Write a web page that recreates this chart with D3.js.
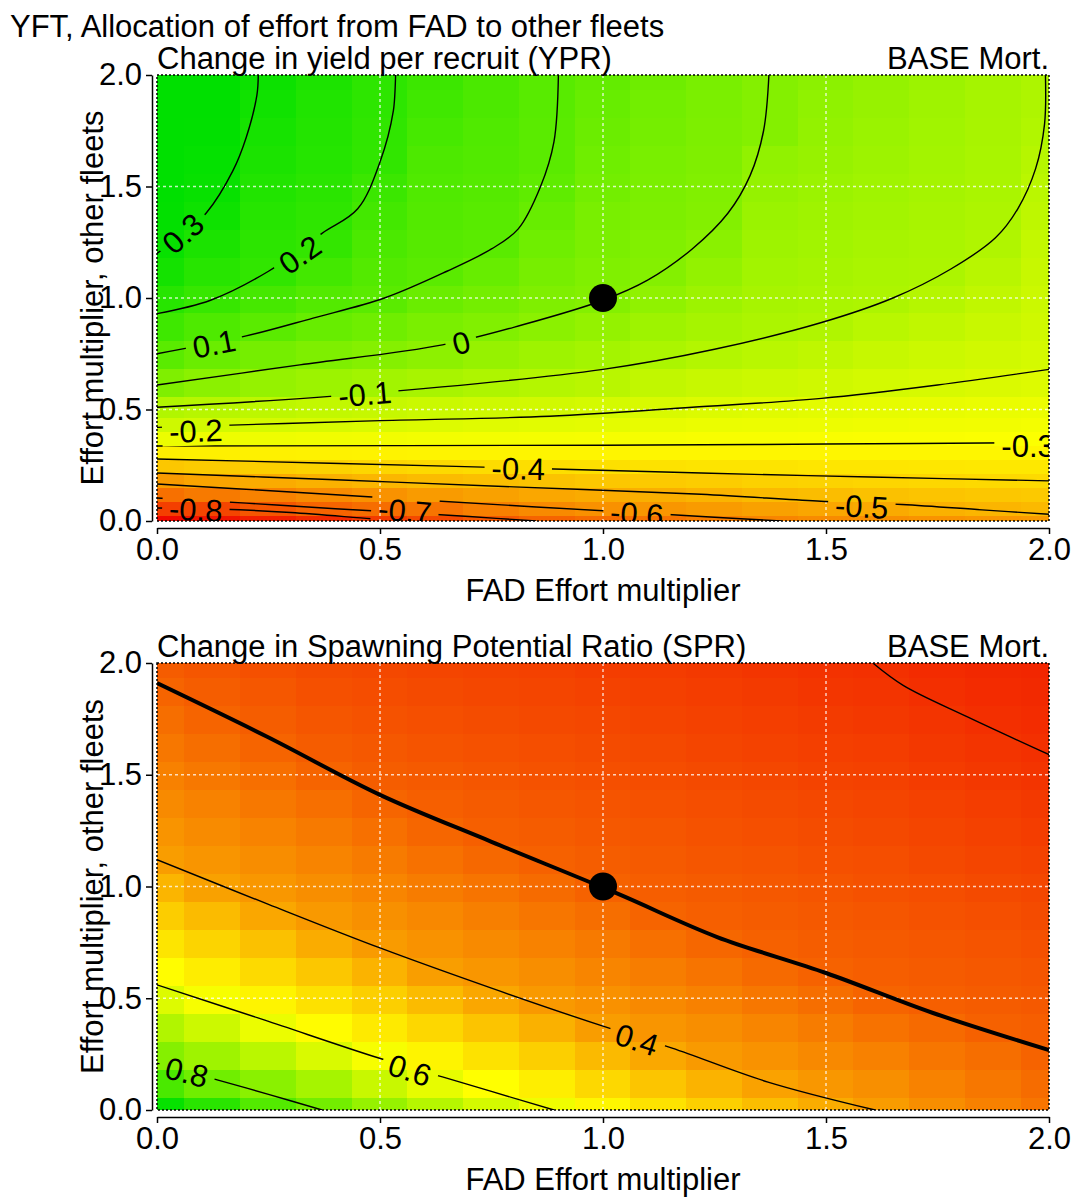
<!DOCTYPE html>
<html>
<head>
<meta charset="utf-8">
<script src="https://cdn.jsdelivr.net/npm/d3@7"></script>
<style>
  body { margin: 0; background: #fff; }
  text { font-family: "Liberation Sans", Arial, Helvetica, sans-serif; fill: #000; }
</style>
</head>
<body>
<svg width="1075" height="1200"></svg>
<script>

// ---- data ----

var ticks = [0, 0.5, 1, 1.5, 2];
var gridX = [0, 0.125, 0.25, 0.375, 0.5, 0.625, 0.75, 0.875, 1, 1.125, 1.25, 1.375, 1.5, 1.625, 1.75, 1.875, 2];

// YPR change: one row per value of yprGridY, values along gridX
var yprGridY = [0, 0.0625, 0.125, 0.1875, 0.25, 0.3125, 0.375, 0.4375, 0.5, 0.625, 0.75, 0.875, 1, 1.125, 1.25, 1.375, 1.5, 1.625, 1.75, 1.875, 2];
var yprRows = [
  [-0.93, -0.90, -0.87, -0.84, -0.80, -0.765, -0.725, -0.695, -0.675, -0.655, -0.63, -0.61, -0.595, -0.585, -0.575, -0.565, -0.555],
  [-0.79, -0.775, -0.73, -0.695, -0.673, -0.654, -0.623, -0.597, -0.581, -0.568, -0.556, -0.539, -0.527, -0.516, -0.50, -0.489, -0.478],
  [-0.665, -0.64, -0.618, -0.595, -0.579, -0.555, -0.539, -0.525, -0.513, -0.503, -0.492, -0.477, -0.467, -0.459, -0.451, -0.444, -0.437],
  [-0.556, -0.532, -0.514, -0.498, -0.485, -0.474, -0.463, -0.453, -0.444, -0.435, -0.427, -0.418, -0.411, -0.407, -0.402, -0.398, -0.395],
  [-0.444, -0.433, -0.423, -0.414, -0.404, -0.397, -0.39, -0.384, -0.379, -0.375, -0.37, -0.368, -0.363, -0.363, -0.361, -0.359, -0.359],
  [-0.34, -0.338, -0.335, -0.333, -0.331, -0.328, -0.327, -0.326, -0.325, -0.324, -0.324, -0.323, -0.323, -0.323, -0.322, -0.322, -0.322],
  [-0.254, -0.258, -0.262, -0.266, -0.268, -0.27, -0.273, -0.275, -0.277, -0.279, -0.282, -0.284, -0.285, -0.287, -0.288, -0.29, -0.292],
  [-0.181, -0.19, -0.198, -0.205, -0.211, -0.218, -0.225, -0.23, -0.235, -0.243, -0.251, -0.255, -0.257, -0.262, -0.266, -0.269, -0.273],
  [-0.111, -0.126, -0.14, -0.151, -0.161, -0.172, -0.181, -0.189, -0.195, -0.206, -0.216, -0.224, -0.231, -0.238, -0.245, -0.25, -0.255],
  [0.011, -0.018, -0.042, -0.059, -0.074, -0.089, -0.103, -0.117, -0.129, -0.149, -0.163, -0.174, -0.183, -0.193, -0.2, -0.209, -0.217],
  [0.1, 0.063, 0.035, 0.014, -0.004, -0.023, -0.045, -0.065, -0.078, -0.096, -0.114, -0.131, -0.145, -0.162, -0.174, -0.185, -0.195],
  [0.169, 0.13, 0.1, 0.07, 0.049, 0.024, 0.006, -0.019, -0.039, -0.064, -0.084, -0.097, -0.108, -0.131, -0.147, -0.166, -0.184],
  [0.226, 0.186, 0.151, 0.119, 0.1, 0.062, 0.038, 0.012, 0.0, -0.031, -0.061, -0.086, -0.093, -0.1, -0.121, -0.146, -0.174],
  [0.272, 0.224, 0.202, 0.158, 0.119, 0.1, 0.069, 0.031, 0.01, 0.0, -0.038, -0.075, -0.084, -0.094, -0.099, -0.127, -0.164],
  [0.302, 0.255, 0.214, 0.197, 0.138, 0.111, 0.1, 0.05, 0.02, 0.006, -0.015, -0.065, -0.075, -0.085, -0.093, -0.108, -0.153],
  [0.315, 0.286, 0.227, 0.208, 0.158, 0.118, 0.107, 0.07, 0.027, 0.015, 0.002, -0.054, -0.066, -0.077, -0.088, -0.1, -0.142],
  [0.323, 0.303, 0.24, 0.218, 0.177, 0.126, 0.113, 0.089, 0.04, 0.02, 0.006, -0.043, -0.057, -0.07, -0.082, -0.094, -0.132],
  [0.33, 0.31, 0.254, 0.229, 0.2, 0.134, 0.12, 0.1, 0.049, 0.026, 0.012, -0.032, -0.048, -0.062, -0.077, -0.092, -0.122],
  [0.34, 0.318, 0.267, 0.235, 0.203, 0.15, 0.126, 0.1, 0.06, 0.035, 0.017, 0.0, -0.038, -0.055, -0.071, -0.088, -0.11],
  [0.355, 0.325, 0.28, 0.243, 0.21, 0.165, 0.135, 0.105, 0.07, 0.043, 0.022, 0.0, -0.03, -0.048, -0.066, -0.085, -0.104],
  [0.37, 0.33, 0.292, 0.251, 0.21, 0.174, 0.141, 0.107, 0.079, 0.052, 0.026, -0.001, -0.021, -0.04, -0.06, -0.08, -0.1]
];

// SPR: one column per value of gridX, values along sprGridY (bottom to top)
var sprGridY = [0, 0.125, 0.25, 0.375, 0.5, 0.625, 0.75, 0.875, 1, 1.125, 1.25, 1.375, 1.5, 1.625, 1.75, 1.875, 2];
var sprCols = [
  [0.97, 0.864, 0.772, 0.703, 0.633, 0.577, 0.532, 0.488, 0.443, 0.399, 0.382, 0.365, 0.347, 0.33, 0.312, 0.295, 0.28],
  [0.915, 0.804, 0.731, 0.66, 0.593, 0.546, 0.5, 0.454, 0.407, 0.385, 0.367, 0.349, 0.331, 0.313, 0.295, 0.281, 0.268],
  [0.85, 0.764, 0.688, 0.612, 0.56, 0.512, 0.465, 0.417, 0.388, 0.37, 0.351, 0.332, 0.314, 0.295, 0.281, 0.27, 0.258],
  [0.8, 0.719, 0.639, 0.575, 0.525, 0.476, 0.427, 0.392, 0.372, 0.353, 0.334, 0.315, 0.295, 0.28, 0.269, 0.258, 0.248],
  [0.745, 0.666, 0.592, 0.541, 0.491, 0.44, 0.396, 0.376, 0.356, 0.336, 0.316, 0.296, 0.282, 0.272, 0.262, 0.252, 0.242],
  [0.695, 0.618, 0.56, 0.507, 0.455, 0.402, 0.38, 0.36, 0.339, 0.319, 0.298, 0.285, 0.275, 0.265, 0.255, 0.246, 0.237],
  [0.648, 0.58, 0.526, 0.472, 0.417, 0.386, 0.365, 0.344, 0.323, 0.302, 0.286, 0.277, 0.268, 0.259, 0.25, 0.241, 0.233],
  [0.603, 0.548, 0.492, 0.436, 0.392, 0.371, 0.35, 0.328, 0.307, 0.288, 0.279, 0.271, 0.262, 0.254, 0.245, 0.237, 0.229],
  [0.564, 0.509, 0.453, 0.399, 0.377, 0.355, 0.334, 0.312, 0.29, 0.281, 0.273, 0.265, 0.256, 0.248, 0.24, 0.231, 0.223],
  [0.526, 0.473, 0.419, 0.385, 0.363, 0.34, 0.317, 0.295, 0.284, 0.276, 0.268, 0.26, 0.252, 0.244, 0.236, 0.228, 0.22],
  [0.491, 0.439, 0.394, 0.371, 0.347, 0.324, 0.3, 0.285, 0.277, 0.269, 0.261, 0.254, 0.246, 0.238, 0.23, 0.222, 0.215],
  [0.458, 0.408, 0.379, 0.355, 0.33, 0.306, 0.288, 0.28, 0.272, 0.264, 0.256, 0.248, 0.24, 0.232, 0.224, 0.216, 0.208],
  [0.427, 0.389, 0.363, 0.338, 0.312, 0.29, 0.282, 0.274, 0.266, 0.258, 0.25, 0.242, 0.234, 0.226, 0.218, 0.21, 0.203],
  [0.398, 0.374, 0.348, 0.321, 0.295, 0.284, 0.276, 0.268, 0.26, 0.253, 0.245, 0.237, 0.229, 0.222, 0.214, 0.206, 0.198],
  [0.372, 0.35, 0.328, 0.305, 0.286, 0.278, 0.27, 0.262, 0.253, 0.245, 0.237, 0.229, 0.221, 0.213, 0.205, 0.197, 0.19],
  [0.347, 0.33, 0.312, 0.289, 0.28, 0.272, 0.264, 0.255, 0.247, 0.238, 0.23, 0.222, 0.214, 0.205, 0.197, 0.19, 0.183],
  [0.325, 0.309, 0.292, 0.283, 0.274, 0.266, 0.257, 0.249, 0.24, 0.232, 0.223, 0.215, 0.206, 0.198, 0.192, 0.186, 0.18]
];

// contour lines, [FAD multiplier, other fleets multiplier]
var ypr_p03 = [[0, 1.2], [0.06, 1.29], [0.11, 1.38], [0.17, 1.57], [0.2, 1.72], [0.224, 1.91], [0.227, 2]];
var ypr_p02 = [[0, 0.93], [0.12, 0.99], [0.25, 1.12], [0.37, 1.29], [0.45, 1.4], [0.5, 1.61], [0.53, 1.84], [0.535, 2]];
var ypr_p01 = [[0, 0.75], [0.2, 0.83], [0.35, 0.91], [0.51, 1.0], [0.65, 1.12], [0.75, 1.22], [0.81, 1.31], [0.86, 1.5], [0.89, 1.7], [0.9, 2]];
var ypr_0 = [[0, 0.61], [0.32, 0.7], [0.64, 0.79], [0.82, 0.88], [1, 0.99], [1.1, 1.08], [1.2, 1.22], [1.28, 1.38], [1.33, 1.55], [1.36, 1.75], [1.372, 2]];
var ypr_m01 = [[0, 0.51], [0.46, 0.57], [1, 0.68], [1.25, 0.77], [1.49, 0.89], [1.65, 1.0], [1.78, 1.13], [1.88, 1.27], [1.93, 1.4], [1.97, 1.58], [1.99, 1.78], [1.992, 2]];
var ypr_m02 = [[0, 0.42], [0.5, 0.45], [0.88, 0.47], [1.2, 0.51], [1.49, 0.55], [1.75, 0.61], [2, 0.68]];
var ypr_m03 = [[0, 0.336], [1, 0.34], [1.5, 0.345], [2, 0.352]];
var ypr_m04 = [[0, 0.278], [0.67, 0.245], [1.22, 0.215], [1.6, 0.197], [2, 0.18]];
var ypr_m05 = [[0, 0.215], [0.4, 0.185], [0.8, 0.153], [1.22, 0.12], [1.48, 0.09], [1.67, 0.074], [1.85, 0.05], [2, 0.03]];
var ypr_m06 = [[0, 0.166], [0.3, 0.13], [0.6, 0.093], [0.85, 0.063], [1.07, 0.038], [1.25, 0.017], [1.4, 0]];
var ypr_m07 = [[0, 0.103], [0.2, 0.08], [0.4, 0.055], [0.55, 0.038], [0.7, 0.02], [0.85, 0]];
var ypr_m08 = [[0, 0.058], [0.15, 0.053], [0.3, 0.038], [0.48, 0.01], [0.55, 0]];

var spr_08 = [[0, 0.21], [0.137, 0.134], [0.25, 0.07], [0.37, 0]];
var spr_06 = [[0, 0.56], [0.24, 0.403], [0.49, 0.237], [0.64, 0.148], [0.89, 0]];
var spr_04 = [[0, 1.12], [0.25, 0.92], [0.5, 0.725], [0.75, 0.545], [1, 0.375], [1.155, 0.277], [1.37, 0.125], [1.61, 0]];
var spr_02 = [[1.605, 2], [1.673, 1.9], [1.816, 1.76], [2, 1.59]];
var spr_base = [[0, 1.91], [0.247, 1.67], [0.5, 1.41], [0.75, 1.2], [1.03, 0.97], [1.256, 0.774], [1.5, 0.613], [1.74, 0.434], [2, 0.268]];

// contour labels: text, position, angle
var yprLabels = [
  ["0.3", 0.058, 1.29, -42], ["0.2", 0.32, 1.195, -35], ["0.1", 0.128, 0.795, -11],
  ["0", 0.682, 0.80, -14], ["-0.1", 0.466, 0.57, -5], ["-0.2", 0.087, 0.405, -2],
  ["-0.3", 1.953, 0.336, 0], ["-0.4", 0.81, 0.236, 1], ["-0.5", 1.58, 0.066, 3],
  ["-0.6", 1.076, 0.034, 4], ["-0.7", 0.556, 0.047, 5], ["-0.8", 0.087, 0.052, 3]
];
var sprLabels = [["0.8", 0.067, 0.17, 14], ["0.6", 0.567, 0.179, 18], ["0.4", 1.076, 0.315, 18]];

var basePoint = [1, 1];

// ---- drawing ----

var svg = d3.select("svg");
var defs = svg.append("defs");
var plotLeft = 157, plotRight = 1049;
var fontSize = 31;

var ramp = ["#f00000", "#ffff00", "#00e000"];
var yprColor = d3.scaleLinear().domain([-0.95, -0.3, 0.32]).range(ramp).clamp(true);
var sprColor = d3.scaleLinear().domain([0.11, 0.58, 0.98]).range(ramp).clamp(true);

svg.append("text").attr("x", 10).attr("y", 37).attr("font-size", fontSize)
  .text("YFT, Allocation of effort from FAD to other fleets");

// cell edges sit halfway between neighbouring grid points
function edges(v) {
  return v.map(function(d, i) {
    return [i === 0 ? d : (v[i - 1] + d) / 2, i === v.length - 1 ? d : (d + v[i + 1]) / 2];
  });
}

function drawPanel(p) {
  var x = d3.scaleLinear().domain([0, 2]).range([plotLeft, plotRight]);
  var y = d3.scaleLinear().domain([0, 2]).range([p.bottom, p.top]);

  defs.append("clipPath").attr("id", "clip-" + p.id)
    .append("rect").attr("x", plotLeft).attr("y", p.top)
    .attr("width", plotRight - plotLeft).attr("height", p.bottom - p.top);

  var inner = svg.append("g").attr("clip-path", "url(#clip-" + p.id + ")");

  // heat map
  var ex = edges(gridX), ey = edges(p.gridY), cells = [];
  ey.forEach(function(yy, j) {
    ex.forEach(function(xx, i) {
      cells.push({ x0: xx[0], x1: xx[1], y0: yy[0], y1: yy[1], v: p.value(i, j) });
    });
  });
  inner.append("g").selectAll("rect").data(cells).enter().append("rect")
    .attr("x", function(d) { return Math.floor(x(d.x0)); })
    .attr("y", function(d) { return Math.floor(y(d.y1)); })
    .attr("width", function(d) { return Math.ceil(x(d.x1)) - Math.floor(x(d.x0)) + 1; })
    .attr("height", function(d) { return Math.ceil(y(d.y0)) - Math.floor(y(d.y1)) + 1; })
    .attr("fill", function(d) { return p.color(d.v); })
    .attr("shape-rendering", "crispEdges");

  // light dashed grid
  var gl = ticks.slice(1, -1);
  inner.append("g").selectAll("line.gx").data(gl).enter().append("line")
    .attr("x1", function(d) { return x(d); }).attr("x2", function(d) { return x(d); })
    .attr("y1", p.top).attr("y2", p.bottom);
  inner.append("g").selectAll("line.gy").data(gl).enter().append("line")
    .attr("y1", function(d) { return y(d); }).attr("y2", function(d) { return y(d); })
    .attr("x1", plotLeft).attr("x2", plotRight);
  inner.selectAll("line").attr("stroke", "#ffffff").attr("stroke-opacity", 0.75)
    .attr("stroke-width", 1.5).attr("stroke-dasharray", "3,3");

  // labels first, so their sizes can cut the gaps in the lines
  var labels = inner.append("g").selectAll("text").data(p.labels).enter().append("text")
    .attr("transform", function(d) { return "translate(" + x(d[1]) + "," + y(d[2]) + ") rotate(" + d[3] + ")"; })
    .attr("text-anchor", "middle").attr("dy", "0.36em").attr("font-size", fontSize)
    .text(function(d) { return d[0]; });

  var mask = defs.append("mask").attr("id", "mask-" + p.id).attr("maskUnits", "userSpaceOnUse")
    .attr("x", 0).attr("y", 0).attr("width", 1075).attr("height", 1200);
  mask.append("rect").attr("width", 1075).attr("height", 1200).attr("fill", "#fff");
  labels.each(function(d) {
    var w = this.getComputedTextLength() + 14;
    mask.append("rect").attr("x", -w / 2).attr("y", -15).attr("width", w).attr("height", 30)
      .attr("fill", "#000")
      .attr("transform", "translate(" + x(d[1]) + "," + y(d[2]) + ") rotate(" + d[3] + ")");
  });

  var line = d3.line().x(function(d) { return x(d[0]); }).y(function(d) { return y(d[1]); })
    .curve(d3.curveCatmullRom.alpha(0.5));

  inner.append("g").attr("mask", "url(#mask-" + p.id + ")")
    .selectAll("path").data(p.lines).enter().append("path")
    .attr("d", line).attr("fill", "none").attr("stroke", "#000").attr("stroke-width", 1.4);

  if (p.thick) {
    inner.append("path").datum(p.thick).attr("d", line)
      .attr("fill", "none").attr("stroke", "#000").attr("stroke-width", 4);
  }

  inner.append("circle").attr("cx", x(basePoint[0])).attr("cy", y(basePoint[1]))
    .attr("r", 14).attr("fill", "#000");

  // dotted box round the plot
  svg.append("rect").attr("x", plotLeft).attr("y", p.top)
    .attr("width", plotRight - plotLeft).attr("height", p.bottom - p.top)
    .attr("fill", "none").attr("stroke", "#000").attr("stroke-width", 1.5)
    .attr("stroke-dasharray", "2,2");

  // axes
  var fmt = d3.format(".1f");
  var ax = svg.append("g").attr("transform", "translate(0," + (p.bottom + 7) + ")")
    .call(d3.axisBottom(x).tickValues(ticks).tickFormat(fmt).tickSize(6).tickSizeOuter(0).tickPadding(4));
  var ay = svg.append("g").attr("transform", "translate(152,0)")
    .call(d3.axisLeft(y).tickValues(ticks).tickFormat(fmt).tickSize(6).tickSizeOuter(0).tickPadding(4));
  [ax, ay].forEach(function(a) {
    a.selectAll("path, line").attr("stroke", "#000").attr("stroke-width", 1.5);
    a.selectAll("text").attr("font-size", fontSize).attr("font-family", null).attr("fill", "#000");
  });

  svg.append("text").attr("x", (plotLeft + plotRight) / 2).attr("y", p.bottom + 80)
    .attr("text-anchor", "middle").attr("font-size", fontSize).text("FAD Effort multiplier");
  svg.append("text").attr("transform", "translate(103," + ((p.top + p.bottom) / 2) + ") rotate(-90)")
    .attr("text-anchor", "middle").attr("font-size", fontSize).text("Effort multiplier, other fleets");

  svg.append("text").attr("x", plotLeft).attr("y", p.top - 6).attr("font-size", fontSize).text(p.title);
  svg.append("text").attr("x", plotRight).attr("y", p.top - 6).attr("text-anchor", "end")
    .attr("font-size", fontSize).text("BASE Mort.");
}

drawPanel({
  id: "ypr", top: 75, bottom: 521,
  title: "Change in yield per recruit (YPR)",
  gridY: yprGridY,
  value: function(i, j) { return yprRows[j][i]; },
  color: yprColor,
  lines: [ypr_p03, ypr_p02, ypr_p01, ypr_0, ypr_m01, ypr_m02, ypr_m03, ypr_m04, ypr_m05, ypr_m06, ypr_m07, ypr_m08],
  labels: yprLabels
});

drawPanel({
  id: "spr", top: 663, bottom: 1110,
  title: "Change in Spawning Potential Ratio (SPR)",
  gridY: sprGridY,
  value: function(i, j) { return sprCols[i][j]; },
  color: sprColor,
  lines: [spr_08, spr_06, spr_04, spr_02],
  thick: spr_base,
  labels: sprLabels
});

</script>
</body>
</html>
